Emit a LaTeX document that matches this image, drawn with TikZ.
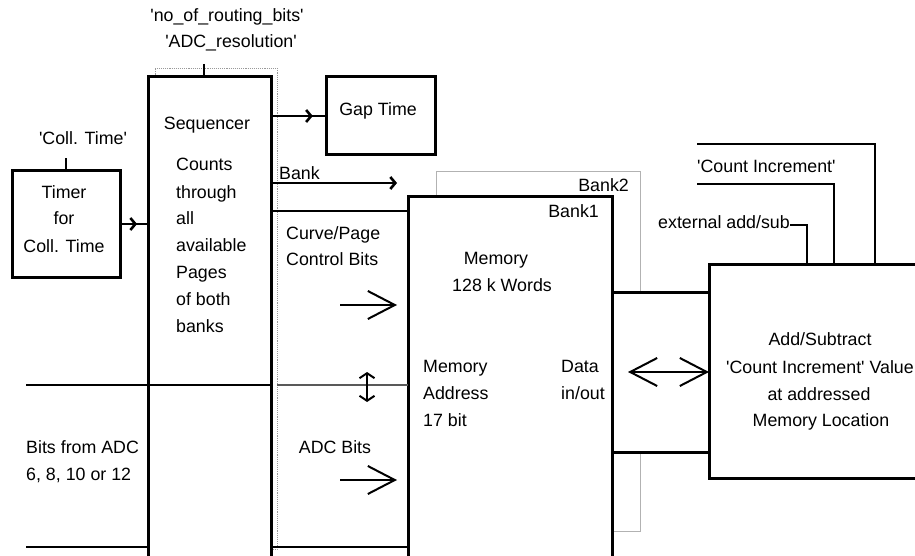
\documentclass[tikz,border=0pt]{standalone}
\usepackage{fontspec}
\setmainfont{Liberation Sans}[Ligatures=TeXOff]
\usetikzlibrary{arrows.meta,decorations.markings}
\begin{document}
\begin{tikzpicture}[x=1pt,y=-1pt,
  box/.style={draw, line width=3pt, fill=white, anchor=north west, inner sep=0pt, outer sep=0pt},
  shadowbox/.style={draw=black!40, line width=0.9pt, anchor=north west, inner sep=0pt, outer sep=0pt},
  txt/.style={inner sep=0pt, font=\fontsize{17.8}{21}\selectfont},
  conn/.style={line width=2.6pt},
  smalltip/.style={-{Straight Barb[length=5pt,width=12pt]}},
  bigarrow/.style={line width=2pt, -{Straight Barb[length=27pt,width=28pt]}},
  midtip/.style={postaction={decorate}, decoration={markings, mark=at position #1 with {\arrow{Straight Barb[length=5pt,width=12pt]}}}}
]
\useasboundingbox (0,0) rectangle (915,556);
\clip (0,0) rectangle (915,556);

% shadow boxes
\node[shadowbox, densely dotted, minimum width=122pt, minimum height=481pt] (seqsh) at (155,68) {};
\node[shadowbox, draw=black!30, minimum width=204pt, minimum height=360pt] (bank2) at (436,171) {};

% main boxes
\node[box, minimum width=108pt, minimum height=106pt] (timer) at (12,171) {};
\node[box, minimum width=123pt, minimum height=523pt] (seq) at (148,77) {};
\node[box, minimum width=109pt, minimum height=78pt] (gap) at (326,77) {};
\node[box, minimum width=204pt, minimum height=403pt] (mem) at (408,197) {};
\node[box, minimum width=97pt, minimum height=160pt] (data) at (612,292) {};
\node[box, minimum width=260pt, minimum height=214pt] (add) at (709,264) {};

% coordinates
\coordinate (seqparam) at (204,64);
\coordinate (banktip) at (397,183);
\coordinate (adcL) at (26,385);
\coordinate (botL) at (26,547);
\coordinate (incA) at (697,144);
\coordinate (incB) at (697,184);
\coordinate (extend) at (790,225);
\coordinate (xA) at (875,0);
\coordinate (xB) at (834,0);
\coordinate (xC) at (807,0);

% connectors
\draw[conn] (seqparam) -- (seqparam |- seq.north);
\draw[conn] (timer.north) -- ++(0,-13);
\draw[conn, midtip=0.61] (timer.east) -- (seq.west |- timer.east);
\draw[conn, midtip=0.76] (seq.east |- gap.west) -- (gap.west);
\draw[conn, smalltip] (seq.east |- banktip) -- (banktip);
\draw[conn] (seq.east |- 0,211) -- (mem.west |- 0,211);
\draw[conn] (adcL) -- (seq.east |- adcL);
\draw[line width=1.3pt, black!65] (seqsh.east |- adcL) -- (mem.west |- adcL);
\draw[conn] (botL) -- (seq.west |- botL);
\draw[conn] (seq.east |- botL) -- (mem.west |- botL);
\draw[conn] (incA) -| (xA |- add.north);
\draw[conn] (incB) -| (xB |- add.north);
\draw[conn] (extend) -| (xC |- add.north);

% free arrows
\draw[bigarrow] (340,305) -- (397,305);
\draw[bigarrow] (340,480) -- (397,480);
\draw[line width=2pt, {Straight Barb[length=27pt,width=28pt]}-{Straight Barb[length=27pt,width=28pt]}] ([xshift=16pt]data.west) -- (data.east);
\draw[line width=2pt, {Straight Barb[length=5pt,width=15pt]}-{Straight Barb[length=5pt,width=15pt]}] (367,372) -- (367,402);

% texts
\node[txt, anchor=base] (t1) at (227,22) {'no\_of\_routing\_bits'};
\node[txt, anchor=base] (t2) at (231,48) {'ADC\_resolution'};
\node[txt, anchor=base] (t3) at (207,130) {Sequencer};
\node[txt, anchor=base west] (s1) at (176,171) {Counts};
\node[txt, anchor=base west] (s2) at (176,198) {through};
\node[txt, anchor=base west] (s3) at (176,225) {all};
\node[txt, anchor=base west] (s4) at (176,251) {available};
\node[txt, anchor=base west] (s5) at (176,278) {Pages};
\node[txt, anchor=base west] (s6) at (176,305) {of both};
\node[txt, anchor=base west] (s7) at (176,332) {banks};
\node[txt, anchor=base] (ct) at (83,145) {'Coll. Time'};
\node[txt, anchor=base] (tm1) at (64,198) {Timer};
\node[txt, anchor=base] (tm2) at (64,225) {for};
\node[txt, anchor=base] (tm3) at (64,252) {Coll. Time};
\node[txt, anchor=base] (gt) at (378,116) {Gap Time};
\node[txt, anchor=base west] (bk) at (279,180) {Bank};
\node[txt, anchor=base west] (cp1) at (286,239) {Curve/Page};
\node[txt, anchor=base west] (cp2) at (286,265) {Control Bits};
\node[txt, anchor=base east] (b2) at (629,192) {Bank2};
\node[txt, anchor=base east] (b1) at (599,218) {Bank1};
\node[txt, anchor=base] (m1) at (496,264) {Memory};
\node[txt, anchor=base] (m2) at (502,291) {128 k Words};
\node[txt, anchor=base west] (ci) at (697,173) {'Count Increment'};
\node[txt, anchor=base west] (ext) at (658,228) {external add/sub};
\node[txt, anchor=base] (a1) at (820,345) {Add/Subtract};
\node[txt, anchor=base] (a2) at (820,373) {'Count Increment' Value};
\node[txt, anchor=base] (a3) at (819,400) {at addressed};
\node[txt, anchor=base] (a4) at (821,426) {Memory Location};
\node[txt, anchor=base west] (ma1) at (423,372) {Memory};
\node[txt, anchor=base west] (ma2) at (423,399) {Address};
\node[txt, anchor=base west] (ma3) at (423,426) {17 bit};
\node[txt, anchor=base west] (d1) at (561,372) {Data};
\node[txt, anchor=base west] (d2) at (561,399) {in/out};
\node[txt, anchor=base west] (bf1) at (26,453) {Bits from ADC};
\node[txt, anchor=base west] (bf2) at (26,480) {6, 8, 10 or 12};
\node[txt, anchor=base] (ab) at (335,453) {ADC Bits};
\end{tikzpicture}
\end{document}
